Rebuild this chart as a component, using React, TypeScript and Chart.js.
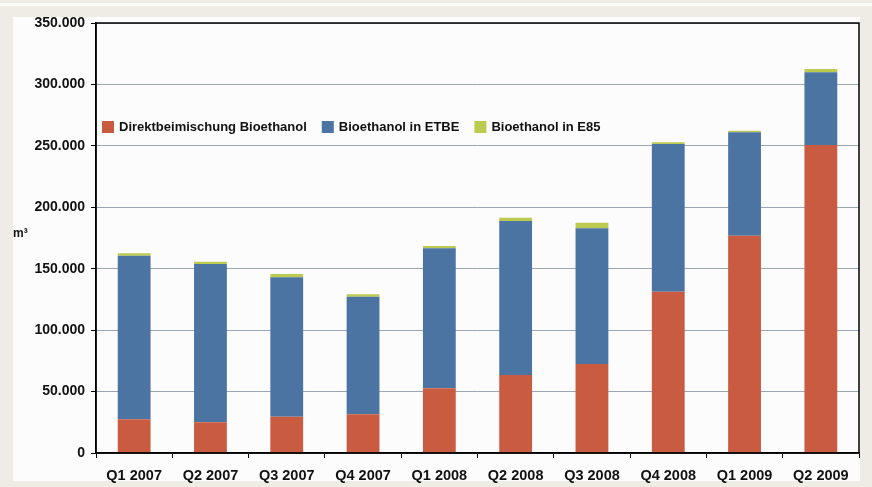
import React, { useEffect, useRef } from "react";
import { Chart, registerables } from "chart.js";

Chart.register(...registerables);

const categories = [
  "Q1 2007",
  "Q2 2007",
  "Q3 2007",
  "Q4 2007",
  "Q1 2008",
  "Q2 2008",
  "Q3 2008",
  "Q4 2008",
  "Q1 2009",
  "Q2 2009",
];

const seriesLabels = [
  "Direktbeimischung Bioethanol",
  "Bioethanol in ETBE",
  "Bioethanol in E85",
];

const direktbeimischung = [27400, 25000, 29600, 31500, 52700, 63500, 72400, 131300, 176900, 250700];
const etbe = [133200, 128800, 113400, 95700, 113900, 125300, 110500, 120200, 84100, 59300];
const e85 = [1900, 1900, 2700, 2000, 1900, 2700, 4600, 1500, 1300, 2500];

const yMin = 0;
const yMax = 350000;
const yStep = 50000;
const unitLabel = "m³";

const colors = ["#c95b40", "#4b74a2", "#bccb4f"];
const FONT = '"Liberation Sans", Arial, Helvetica, sans-serif';

function fmt(v: number): string {
  return String(Math.round(v)).replace(/\B(?=(\d{3})+(?!\d))/g, ".");
}

const framePlugin = {
  id: "framePlugin",
  afterDraw(chart: any) {
    const { ctx, chartArea } = chart;
    ctx.save();
    // plot frame
    ctx.strokeStyle = "#000";
    ctx.lineWidth = 1.5;
    ctx.strokeRect(chartArea.left, chartArea.top, chartArea.right - chartArea.left, chartArea.bottom - chartArea.top);

    // legend inside plot area
    ctx.font = `bold 13px ${FONT}`;
    ctx.textBaseline = "middle";
    ctx.textAlign = "left";
    let x = chartArea.left + 6;
    const yBox = 121;
    chart.data.datasets.forEach((ds: any) => {
      ctx.fillStyle = ds.backgroundColor;
      ctx.fillRect(x, yBox, 12, 12);
      ctx.fillStyle = "#111";
      ctx.fillText(ds.label, x + 17, yBox + 6.5);
      x += 17 + ctx.measureText(ds.label).width + 15;
    });

    // unit label
    ctx.font = `bold 12px ${FONT}`;
    ctx.textBaseline = "alphabetic";
    ctx.fillStyle = "#111";
    ctx.fillText(unitLabel, 13, 237);
    ctx.restore();
  },
};

export default function App() {
  const ref = useRef<HTMLCanvasElement | null>(null);

  useEffect(() => {
    if (!ref.current) return;
    const chart = new Chart(ref.current, {
      type: "bar",
      data: {
        labels: categories,
        datasets: [
          { label: seriesLabels[0], data: direktbeimischung, backgroundColor: colors[0], borderWidth: 0 },
          { label: seriesLabels[1], data: etbe, backgroundColor: colors[1], borderWidth: 0 },
          { label: seriesLabels[2], data: e85, backgroundColor: colors[2], borderWidth: 0 },
        ],
      },
      options: {
        responsive: false,
        devicePixelRatio: 1,
        animation: false,
        layout: { padding: { top: 23, right: 13, bottom: 0, left: 0 } },
        datasets: { bar: { categoryPercentage: 1, barPercentage: 0.43 } } as any,
        plugins: {
          legend: { display: false },
          tooltip: { enabled: false },
        },
        scales: {
          x: {
            stacked: true,
            afterFit: (s: any) => {
              s.height = 34;
            },
            grid: {
              drawOnChartArea: false,
              tickLength: 5,
              tickColor: "#000",
              offset: true,
            },
            border: { color: "#000", width: 1.5 },
            ticks: {
              color: "#111",
              padding: 9,
              maxRotation: 0,
              font: { family: FONT, size: 14.5, weight: "bold" },
            },
          },
          y: {
            stacked: true,
            min: yMin,
            max: yMax,
            afterFit: (s: any) => {
              s.width = 96;
            },
            grid: {
              color: "#9aa6b6",
              lineWidth: 1,
              tickLength: 5,
              tickColor: "#000",
            },
            border: { color: "#000", width: 1.5 },
            ticks: {
              stepSize: yStep,
              color: "#111",
              padding: 6,
              callback: (v: any) => fmt(Number(v)),
              font: { family: FONT, size: 14, weight: "bold" },
            },
          },
        },
      },
      plugins: [framePlugin],
    });
    return () => chart.destroy();
  }, []);

  return (
    <div
      style={{
        position: "fixed",
        left: 0,
        top: 0,
        width: 872,
        height: 487,
        background: "#efece5",
        overflow: "hidden",
      }}
    >
      <div style={{ position: "absolute", left: 0, top: 3, width: 872, height: 3, background: "#fbfbf9" }} />
      <div style={{ position: "absolute", left: 13, top: 17, width: 847, height: 464, background: "#fcfcfd" }} />
      <canvas
        ref={ref}
        width={872}
        height={487}
        style={{ position: "absolute", left: 0, top: 0, width: 872, height: 487 }}
      />
    </div>
  );
}
